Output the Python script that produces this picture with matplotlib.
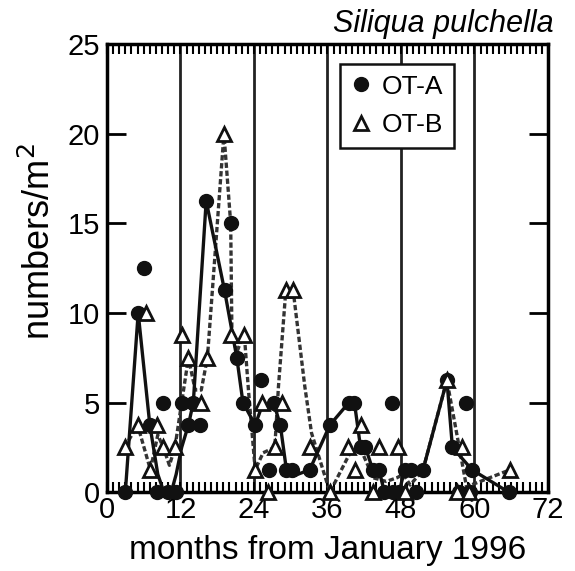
#!/usr/bin/env python3
"""Siliqua pulchella densities at OT-A / OT-B, monthly from January 1996."""

import matplotlib
matplotlib.use("Agg")
import matplotlib.pyplot as plt
from matplotlib.ticker import MultipleLocator

# ---------------------------------------------------------------------------
# Data
# ---------------------------------------------------------------------------

# OT-A samples (filled circles)
a_month = [3.0, 5.1, 6.1, 7.0, 8.2, 9.1, 10.0, 11.2, 12.2, 13.3, 14.1, 15.2,
           16.2, 19.2, 20.2, 21.2, 22.2, 24.2, 25.2, 26.5, 27.2, 28.3, 29.3,
           30.2, 33.1, 36.4, 39.5, 40.4, 41.4, 42.2, 43.4, 44.4, 45.3, 46.5,
           46.7, 47.7, 48.6, 49.6, 50.4, 51.6, 55.5, 56.4, 57.4, 58.6, 59.3,
           59.6, 65.6]
a_value = [0, 10, 12.5, 3.75, 0, 5, 0, 0, 5, 3.75, 5, 3.75,
           16.25, 11.25, 15, 7.5, 5, 3.75, 6.25, 1.25, 5, 3.75, 1.25,
           1.25, 1.25, 3.75, 5, 5, 2.5, 2.5, 1.25, 1.25, 0, 5,
           0, 0, 1.25, 1.25, 0, 1.25, 6.25, 2.5, 0, 5, 0,
           1.25, 0]

# OT-B samples (open triangles)
b_month = [2.9, 5.0, 6.4, 7.1, 8.2, 9.2, 11.1, 12.2, 13.3, 15.4, 16.4, 19.1,
           20.2, 22.3, 24.2, 25.3, 26.3, 27.4, 28.5, 29.2, 30.4, 33.1, 36.4,
           39.4, 40.5, 41.4, 43.4, 44.4, 47.5, 48.7, 55.5, 57.1, 57.9, 59.1,
           65.8]
b_value = [2.5, 3.75, 10, 1.25, 3.75, 2.5, 2.5, 8.75, 7.5, 5, 7.5, 20,
           8.75, 8.75, 1.25, 5, 0, 2.5, 5, 11.25, 11.25, 2.5, 0,
           2.5, 1.25, 3.75, 0, 2.5, 2.5, 0, 6.25, 0, 2.5, 0,
           1.25]

# trend curves drawn through the samples
a_line_month = [3.0, 5.1, 7.0, 8.3, 9.3, 10.5, 11.3, 12.2, 13.3, 14.1, 16.2,
                19.2, 21.2, 22.2, 24.2, 25.2, 27.2, 28.3, 29.3, 30.4, 33.1,
                36.4, 39.5, 40.4, 41.4, 42.2, 43.4, 44.4, 45.3, 47.7, 48.6,
                51.6, 55.5, 56.4, 59.6, 65.6]
a_line_value = [0, 10, 3.75, 1.0, 0, 0, 1.0, 2.5, 3.75, 5, 16.25,
                11.25, 7.5, 5, 3.75, 4.7, 5, 3.75, 1.25, 0.9, 1.25,
                3.75, 5, 5, 2.5, 2.5, 1.25, 1.25, 0, 0, 1.25,
                1.25, 6.25, 2.5, 1.25, 0]

b_line_month = [2.9, 5.0, 7.1, 8.3, 9.2, 10.2, 11.1, 12.2, 13.3, 14.4, 15.4,
                16.4, 19.1, 20.2, 20.4, 21.2, 22.4, 23.1, 24.2, 25.5, 27.4,
                28.0, 29.2, 30.4, 32.3, 33.4, 36.4, 39.7, 41.3, 43.5, 45.6,
                47.3, 48.4, 49.5, 50.5, 51.6, 55.5, 58.7, 65.8]
b_line_value = [2.5, 3.75, 1.25, 3.2, 2.5, 1.5, 2.5, 5.0, 7.5, 5.7, 5.7,
                7.5, 20, 15, 8.9, 7.8, 8.9, 5.7, 1.25, 2.2, 2.5,
                5.9, 11.25, 11.25, 5.9, 3.3, 0, 2.2, 2.5, 0.8, 0.6,
                0.8, 1.0, 0.4, 0.8, 1.25, 6.25, 0.3, 1.25]

YEAR_MARKS = [12, 24, 36, 48, 60]


def main():
    plt.rcParams["font.family"] = ["Liberation Sans", "DejaVu Sans"]

    fig = plt.figure(figsize=(5.75, 5.71), dpi=100)
    ax = fig.add_axes([0.186, 0.138, 0.767, 0.785])

    for m in YEAR_MARKS:
        ax.axvline(m, color="#222222", linewidth=2.0, zorder=1)

    ax.plot(b_line_month, b_line_value, color="#333333", linewidth=2.4,
            linestyle=(0, (1.6, 0.8)), zorder=2)
    ax.plot(a_line_month, a_line_value, color="#111111", linewidth=2.4, zorder=3)

    ax.plot(a_month, a_value, "o", color="#111111", markersize=10,
            linestyle="none", label="OT-A", zorder=4, clip_on=False)
    ax.plot(b_month, b_value, "^", markerfacecolor="white", markeredgecolor="#111111",
            markeredgewidth=2.0, markersize=10, linestyle="none", label="OT-B",
            zorder=5, clip_on=False)

    ax.set_xlim(0, 72)
    ax.set_ylim(0, 25)
    ax.set_xticks(range(0, 73, 12))
    ax.set_yticks(range(0, 26, 5))
    ax.xaxis.set_minor_locator(MultipleLocator(1))

    ax.tick_params(axis="x", which="major", direction="in", length=7, width=1.5,
                   top=True, labelsize=21, pad=3)
    ax.tick_params(axis="x", which="minor", direction="in", length=7, width=1.5,
                   top=True)
    ax.tick_params(axis="y", which="major", direction="in", length=14, width=2,
                   right=True, labelsize=21, pad=5)

    for sp in ax.spines.values():
        sp.set_linewidth(2.5)

    ax.set_xlabel("months from January 1996", fontsize=24, labelpad=8)
    ax.set_ylabel("numbers/m$^2$", fontsize=26)
    ax.yaxis.set_label_coords(-0.11, 0.56)

    ax.text(1.012, 1.012, "Siliqua pulchella", transform=ax.transAxes,
            ha="right", va="bottom", fontsize=22, style="italic")

    leg = ax.legend(loc="upper left", bbox_to_anchor=(0.528, 0.955), fontsize=19,
                    fancybox=False, framealpha=1, edgecolor="#111111",
                    handletextpad=0.4, borderpad=0.4, labelspacing=0.55,
                    handlelength=0.8, borderaxespad=0)
    leg.get_frame().set_linewidth(1.8)

    fig.savefig("out.png", dpi=100)
    plt.close(fig)


if __name__ == "__main__":
    main()
